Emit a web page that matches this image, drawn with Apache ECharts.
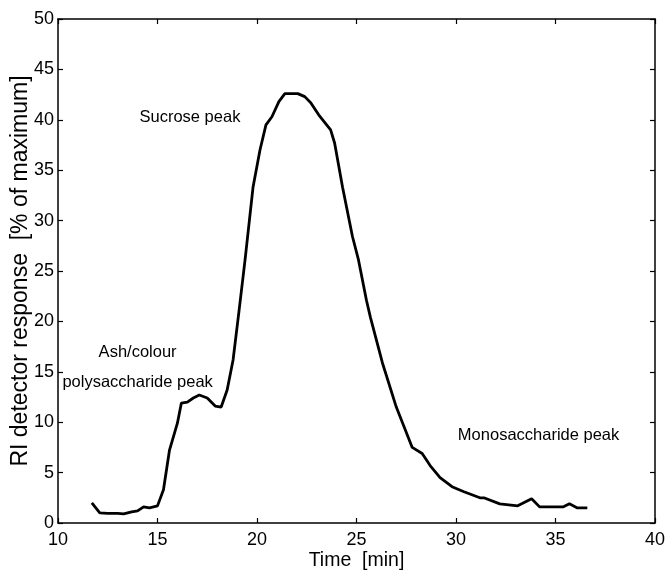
<!DOCTYPE html>
<html>
<head>
<meta charset="utf-8">
<script src="https://cdn.jsdelivr.net/npm/echarts@6/dist/echarts.min.js"></script>
<style>html,body{margin:0;padding:0;background:#fff}#c{width:668px;height:575px}</style>
</head>
<body>
<div id="c"></div>
<script>
const timeMin = [11.7,12.1,12.5,13.0,13.3,13.7,14.0,14.3,14.6,15.0,15.3,15.6,16.0,16.2,16.5,16.8,17.1,17.5,17.9,18.2,18.5,18.8,19.1,19.4,19.8,20.15,20.45,20.75,21.1,21.4,22.05,22.4,22.7,23.1,23.7,23.9,24.3,24.8,25.1,25.5,25.7,26.3,27.0,27.4,27.8,27.9,28.3,28.7,29.2,29.8,30.4,31.2,31.4,32.2,33.1,33.4,33.8,34.2,34.8,35.4,35.7,36.1,36.6];
const riResponse = [2.0,1.0,0.95,0.95,0.9,1.1,1.2,1.6,1.5,1.7,3.3,7.2,9.9,11.9,12.0,12.4,12.7,12.4,11.6,11.5,13.2,16.2,21.1,26.1,33.3,37.0,39.5,40.3,41.8,42.6,42.6,42.3,41.7,40.5,39.0,37.7,33.3,28.4,26.1,22.1,20.4,15.9,11.5,9.5,7.5,7.4,6.9,5.7,4.5,3.6,3.1,2.5,2.5,1.9,1.7,2.0,2.4,1.6,1.6,1.6,1.9,1.5,1.5];
const xTicks = [10,15,20,25,30,35,40];
const yTicks = [0,5,10,15,20,25,30,35,40,45,50];
const annotations = [
  {text:'Sucrose peak', x:16.63, y:40.2},
  {text:'Ash/colour', x:14.0, y:16.9},
  {text:'polysaccharide peak', x:14.0, y:13.9},
  {text:'Monosaccharide peak', x:34.15, y:8.7}
];

const chart = echarts.init(document.getElementById('c'));
const F = 'Liberation Sans, Arial, sans-serif';
const axisLine = {show:true, onZero:false, lineStyle:{color:'#000', width:1.5}};
const axisTick = {show:true, inside:true, length:5, lineStyle:{color:'#000', width:1.2}};
chart.setOption({
  animation:false,
  backgroundColor:'#fff',
  grid:{left:58, right:13, top:19, bottom:52, containLabel:false, outerBoundsMode:'none'},
  xAxis:[
    {type:'value', min:xTicks[0], max:xTicks[xTicks.length-1], interval:5, position:'bottom',
     name:'Time  [min]', nameLocation:'middle', nameGap:28, nameMoveOverlap:false,
     nameTextStyle:{color:'#000', fontFamily:F, fontSize:19.5},
     axisLine, axisTick, splitLine:{show:false},
     axisLabel:{color:'#000', fontFamily:F, fontSize:18, margin:8}},
    {type:'value', min:xTicks[0], max:xTicks[xTicks.length-1], interval:5, position:'top',
     axisLine, axisTick, splitLine:{show:false}, axisLabel:{show:false}}
  ],
  yAxis:[
    {type:'value', min:yTicks[0], max:yTicks[yTicks.length-1], interval:5, position:'left',
     name:'RI detector response  [% of maximum]', nameLocation:'middle', nameGap:26, nameMoveOverlap:false,
     nameTextStyle:{color:'#000', fontFamily:F, fontSize:23},
     axisLine, axisTick, splitLine:{show:false},
     axisLabel:{color:'#000', fontFamily:F, fontSize:18, margin:4}},
    {type:'value', min:yTicks[0], max:yTicks[yTicks.length-1], interval:5, position:'right',
     axisLine, axisTick, splitLine:{show:false}, axisLabel:{show:false}}
  ],
  series:[
    {type:'line', data:timeMin.map((t,i)=>[t, riResponse[i]]), showSymbol:false, smooth:false,
     lineStyle:{color:'#000', width:2.8},
     markPoint:{
       symbol:'circle', symbolSize:0,
       data:annotations.map(a=>({coord:[a.x,a.y], value:a.text,
         label:{show:true, formatter:a.text, color:'#000', fontFamily:F, fontSize:16.5, position:'inside'}}))
     }}
  ]
});
</script>
</body>
</html>
